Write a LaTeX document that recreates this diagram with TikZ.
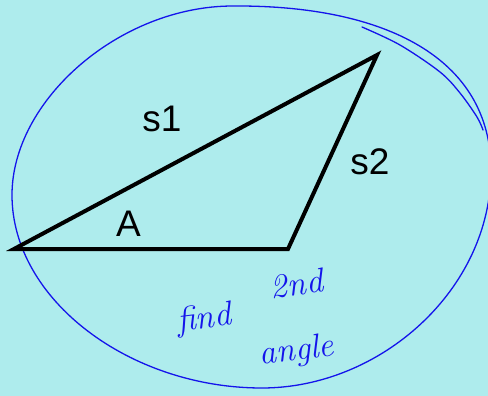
\documentclass[tikz,border=0pt]{standalone}
\usepackage{fontspec}
\setmainfont{Liberation Sans}
\newfontfamily\handfont{Latin Modern Roman}
\definecolor{bgcyan}{RGB}{174,236,237}
\definecolor{penblue}{RGB}{20,20,235}
\begin{document}
\begin{tikzpicture}[x=1pt,y=-1pt,
  side/.style={line width=4pt,black,line join=miter},
  lbl/.style={font=\fontsize{37}{40}\selectfont,text=black,inner sep=0pt,anchor=base},
  ink/.style={penblue,line width=1.3pt,line cap=round,line join=round},
  hand/.style={font=\handfont\itshape\fontsize{34}{36}\selectfont,text=penblue,inner sep=0pt,anchor=base}]
\useasboundingbox (0,0) rectangle (488,396);
\fill[bgcyan] (0,0) rectangle (488,396);
% hand-drawn loop
\coordinate (Lt) at (233,6);
\coordinate (Lr) at (491,170);
\coordinate (Lb) at (262,388);
\coordinate (Ll) at (12,195);
\draw[ink] (Lt) .. controls (385,5) and (491,58) .. (Lr)
  .. controls (491,290) and (380,388) .. (Lb)
  .. controls (130,388) and (12,300) .. (Ll)
  .. controls (12,100) and (120,6) .. (Lt);
\draw[ink] plot[smooth,tension=0.55] coordinates {
  (362,27) (400,45) (440,72) (460,93) (477,117) (483,130)};
% triangle
\coordinate (P) at (14,249);
\coordinate (Q) at (288,249);
\coordinate (R) at (377,55);
\draw[side] (P) -- (Q) -- (R) -- cycle;
% labels
\node[lbl] (s1) at (162,131.5) {s1};
\node[lbl] (s2) at (370,175) {s2};
\node[lbl] (A) at (128.5,236) {A};
% handwritten note
\node[hand,rotate=7] (find) at (205,328) {find};
\node[hand,rotate=7] (nd) at (298,295) {2nd};
\node[hand,rotate=7] (angle) at (298,360) {angle};
\end{tikzpicture}
\end{document}
